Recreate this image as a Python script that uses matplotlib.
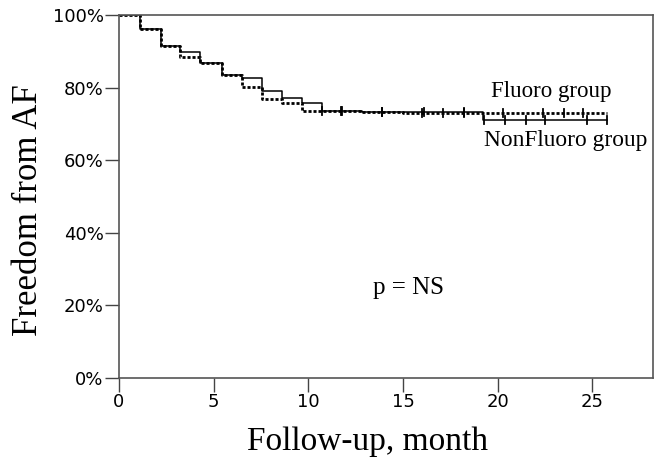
import matplotlib
matplotlib.use('Agg')
import matplotlib.pyplot as plt
import numpy as np

# step times (months) and survival for each group
fluoro_t = [0, 1.11, 2.20, 3.22, 4.28, 5.42, 6.48, 7.53, 8.59, 9.65, 12.81, 15.0, 25.75]
fluoro_s = [1.0, 0.961, 0.915, 0.885, 0.867, 0.835, 0.802, 0.769, 0.758, 0.736, 0.732, 0.729, 0.729]

nonfluoro_t = [0, 1.11, 2.20, 3.22, 4.28, 5.42, 6.48, 7.53, 8.59, 9.65, 10.70, 12.81, 19.23, 25.75]
nonfluoro_s = [1.0, 0.961, 0.915, 0.897, 0.867, 0.835, 0.826, 0.791, 0.771, 0.757, 0.736, 0.733, 0.711, 0.711]

# censored observations
fluoro_cens = [11.7, 13.9, 16.0, 17.1, 18.2, 20.3, 22.4, 23.5, 24.5]
nonfluoro_cens = [10.7, 11.75, 13.9, 16.1, 18.2, 19.3, 20.4, 21.5, 22.5, 24.7, 25.75]

def surv_at(t, s, x):
    i = np.searchsorted(t, x, side='right') - 1
    return s[i]

fig = plt.figure(figsize=(6.6, 4.62), dpi=100)
ax = fig.add_axes([0.1803, 0.1818, 0.8091, 0.7857])

ax.step(fluoro_t, fluoro_s, where='post', color='black', lw=2.0,
        linestyle=(0, (1.1, 0.7)))
ax.step(nonfluoro_t, nonfluoro_s, where='post', color='black', lw=1.1)

for x in fluoro_cens:
    y = surv_at(fluoro_t, fluoro_s, x)
    ax.plot([x, x], [y - 0.011, y + 0.011], color='black', lw=1.3)
for x in nonfluoro_cens:
    y = surv_at(nonfluoro_t, nonfluoro_s, x)
    ax.plot([x, x], [y - 0.011, y + 0.011], color='black', lw=1.3)

ax.set_xlim(0, 28.2)
ax.set_ylim(0, 1.0)
ax.set_xticks([0, 5, 10, 15, 20, 25])
ax.set_yticks([0, 0.2, 0.4, 0.6, 0.8, 1.0])
ax.set_yticklabels(['0%', '20%', '40%', '60%', '80%', '100%'])
ax.tick_params(direction='out', length=10, width=1, color='#444444',
               labelsize=13, pad=1)

for sp in ax.spines.values():
    sp.set_color('#555555')
    sp.set_linewidth(1.2)

serif = 'Liberation Serif'
ax.set_xlabel('Follow-up, month', fontsize=24, family=serif, va='center')
ax.set_ylabel('Freedom from AF', fontsize=25, family=serif, va='center')
ax.xaxis.set_label_coords(0.466, -0.176)
ax.yaxis.set_label_coords(-0.170, 0.463)

ax.text(22.85, 0.79, 'Fluoro group', fontsize=16.5, family=serif,
        ha='center', va='center')
ax.text(23.57, 0.655, 'NonFluoro group', fontsize=16.8, family=serif,
        ha='center', va='center')
ax.text(15.3, 0.247, 'p = NS', fontsize=18, family=serif,
        ha='center', va='center')

fig.savefig('out.png', dpi=100)
